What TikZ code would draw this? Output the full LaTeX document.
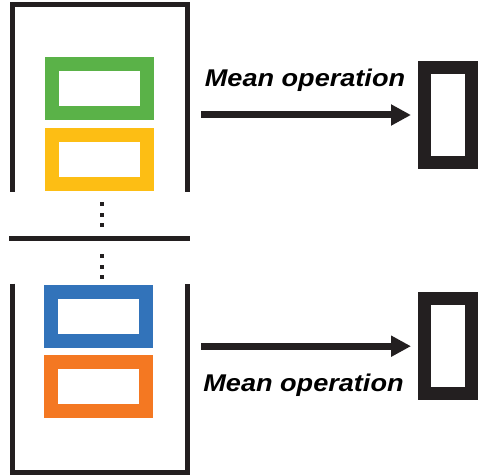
\documentclass[tikz,border=0pt]{standalone}
\usepackage{fontspec}
\setmainfont{Liberation Sans}
\usetikzlibrary{arrows.meta}
\definecolor{frameblack}{HTML}{231F20}
\definecolor{vecgreen}{HTML}{5AB248}
\definecolor{vecyellow}{HTML}{FDBE14}
\definecolor{vecblue}{HTML}{3273BA}
\definecolor{vecorange}{HTML}{F47822}
\newcommand{\meanlabel}{\scalebox{1.12}[1]{\fontsize{24.2}{28}\selectfont\bfseries\itshape Mean operation}}

\begin{document}
\begin{tikzpicture}[x=1pt,y=1pt,
  vecbox/.style={draw, line width=14pt, minimum width=95pt, minimum height=49pt, inner sep=0pt},
  outbox/.style={draw=frameblack, line width=13pt, minimum width=47pt, minimum height=95pt, inner sep=0pt},
  meanarrow/.style={draw=frameblack, line width=7pt, -{Triangle[length=20pt,width=20pt]}, shorten >=7pt}]
\useasboundingbox (0,0) rectangle (478,474);
% left frames
\draw[frameblack, line width=5pt, line join=miter] (12,282.3) -- (12,469.3) -- (187,469.3) -- (187,282.3);
\draw[frameblack, line width=5pt] (9.3,235) -- (190,235);
\draw[frameblack, line width=5pt, line join=miter] (12,190.5) -- (12,2) -- (187,2) -- (187,190.5);
% colour vectors
\node[vecbox, draw=vecgreen] (gbox) at (99.5,385.5) {};
\node[vecbox, draw=vecyellow] (ybox) at (99.5,314.5) {};
\node[vecbox, draw=vecblue] (bbox) at (98.5,157.8) {};
\node[vecbox, draw=vecorange] (obox) at (98.5,87.3) {};
% dots
\foreach \y in {270,259.3,248.7,218,207.3,196.7}
  \fill[frameblack] (99.7,\y-2) rectangle (103.7,\y+2);
% outputs
\node[outbox] (outtop) at (448,359) {};
\node[outbox] (outbot) at (448,127.8) {};
\coordinate (srctop) at (201,359);
\coordinate (srcbot) at (201,127.8);
\draw[meanarrow] (srctop) -- (outtop.west);
\draw[meanarrow] (srcbot) -- (outbot.west);
\node[anchor=base, inner sep=0pt] (meantop) at (305,387.3) {\meanlabel};
\node[anchor=base, inner sep=0pt] (meanbot) at (303.5,82.3) {\meanlabel};
\end{tikzpicture}
\end{document}
